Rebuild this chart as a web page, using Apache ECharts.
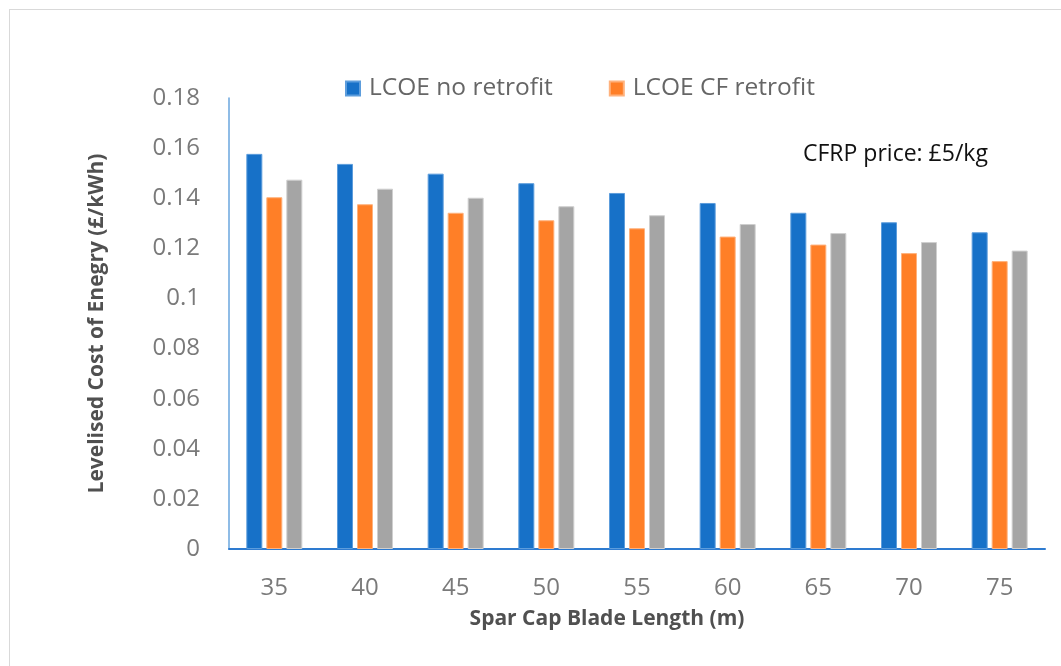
<!DOCTYPE html>
<html>
<head>
<meta charset="utf-8">
<script src="https://cdn.jsdelivr.net/npm/echarts@6/dist/echarts.min.js"></script>
<style>
  html, body { margin: 0; padding: 0; background: #fff; }
  #frame { position: absolute; left: 9px; top: 9px; width: 1100px; height: 700px; border: 1px solid #d9d9d9; box-sizing: border-box; }
  #chart { position: absolute; left: 0; top: 0; width: 1061px; height: 666px; }
</style>
</head>
<body>
<div id="frame"></div>
<div id="chart"></div>
<script>
// Spar cap blade length (m)
const bladeLengths = ['35', '40', '45', '50', '55', '60', '65', '70', '75'];
// Levelised cost of energy (£/kWh)
const lcoeNoRetrofit = [0.1577, 0.1537, 0.1498, 0.1460, 0.1421, 0.1381, 0.1342, 0.1304, 0.1264];
const lcoeCfRetrofit = [0.1404, 0.1376, 0.1342, 0.1312, 0.1280, 0.1247, 0.1215, 0.1181, 0.1149];
const lcoeThird = [0.1474, 0.1438, 0.1402, 0.1368, 0.1332, 0.1297, 0.1261, 0.1225, 0.1191];
const yTicks = { min: 0, max: 0.18, interval: 0.02 };

const FONT = '"Open Sans", "Noto Sans", sans-serif';
const chart = echarts.init(document.getElementById('chart'), null, { renderer: 'canvas' });

const barSeries = (name, data, color, border) => ({
  name: name,
  type: 'bar',
  data: data,
  barWidth: 16,
  barGap: '25%',
  itemStyle: { color: color, borderColor: border, borderWidth: 1 },
  emphasis: { disabled: true }
});

chart.setOption({
  animation: false,
  backgroundColor: 'transparent',
  textStyle: { fontFamily: FONT },
  grid: { left: 229, right: 16, top: 98, bottom: 117, containLabel: false },
  legend: {
    data: ['LCOE no retrofit', 'LCOE CF retrofit'],
    left: 340, top: 71,
    icon: 'rect', itemWidth: 14, itemHeight: 14, itemGap: 56,
    textStyle: { fontFamily: FONT, fontSize: 24.5, color: '#666666', padding: [0, 0, 0, 4] }
  },
  xAxis: {
    type: 'category',
    data: bladeLengths,
    axisLine: { lineStyle: { color: '#2e7bd0', width: 2 } },
    axisTick: { show: false },
    axisLabel: { fontFamily: FONT, fontSize: 24, color: '#7a7a7a', margin: 27 },
    name: 'Spar Cap Blade Length (m)',
    nameLocation: 'middle',
    nameGap: 60,
    nameTextStyle: { fontFamily: FONT, fontSize: 21, fontWeight: 'bold', color: '#505050', padding: [0, 60, 0, 0] }
  },
  yAxis: {
    type: 'value',
    min: yTicks.min, max: yTicks.max, interval: yTicks.interval,
    splitLine: { show: false },
    axisLine: { show: true, lineStyle: { color: '#6aa6de', width: 1.5 } },
    axisTick: { show: false },
    axisLabel: { fontFamily: FONT, fontSize: 24, color: '#7a7a7a', margin: 29 },
    name: 'Levelised Cost of Enegry (£/kWh)',
    nameLocation: 'middle',
    nameGap: 121,
    nameTextStyle: { fontFamily: FONT, fontSize: 21, fontWeight: 'bold', color: '#505050' }
  },
  graphic: [{
    type: 'text',
    left: 803, top: 143,
    style: { text: 'CFRP price: £5/kg', fontFamily: FONT, fontSize: 23, fill: '#111111' }
  }],
  series: [
    barSeries('LCOE no retrofit', lcoeNoRetrofit, '#1771c8', '#5d9ddc'),
    barSeries('LCOE CF retrofit', lcoeCfRetrofit, '#ff7f27', '#ffb27d'),
    barSeries('LCOE third', lcoeThird, '#a5a5a5', '#cfcfcf')
  ]
});
</script>
</body>
</html>
